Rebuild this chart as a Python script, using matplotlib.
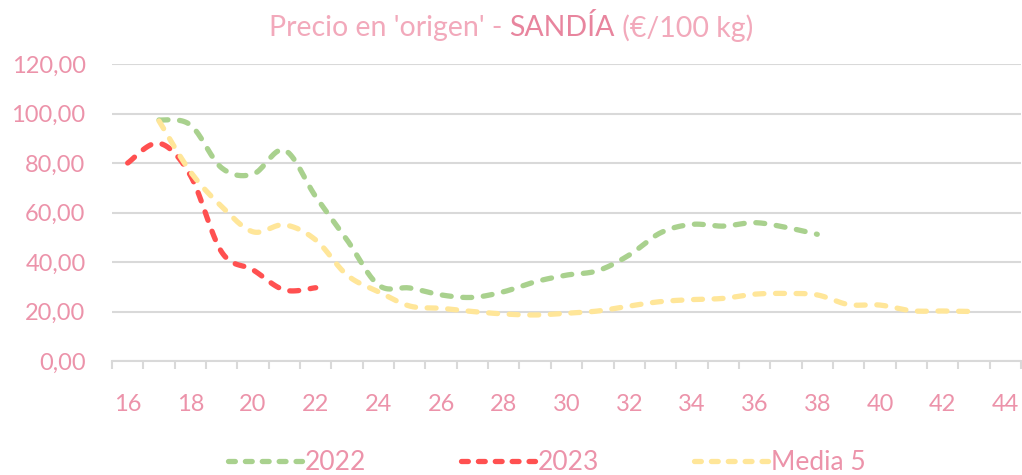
import numpy as np
import matplotlib.pyplot as plt
from matplotlib.lines import Line2D

# --- Weekly prices, €/100 kg ---
weeks_2022 = list(range(17, 39))
precio_2022 = [97.4, 95.4, 78.0, 75.5, 85.2, 66.4, 48.9, 30.7, 29.5, 26.7, 25.7,
               28.0, 32.0, 34.7, 36.5, 42.8, 51.8, 55.2, 54.5, 55.9, 54.0, 51.2]

weeks_2023 = list(range(16, 23))
precio_2023 = [80.0, 88.0, 75.0, 44.0, 36.8, 28.7, 29.6]

weeks_media = list(range(17, 44))
precio_media = [97.0, 76.5, 62.4, 52.2, 55.0, 48.9, 34.7, 28.0, 22.2, 21.3, 20.0,
                19.0, 18.6, 19.3, 20.2, 22.2, 24.0, 24.8, 25.3, 27.0, 27.3, 26.7,
                22.8, 22.6, 20.3, 20.2, 20.0]

x_ticks = list(range(16, 45, 2))
y_ticks = [0, 20, 40, 60, 80, 100, 120]

PINK = "#EC93AA"
PINK_LIGHT = "#F2A9BB"
PINK_DARK = "#E8859E"
GRID = "#D9D9D9"

plt.rcParams["font.family"] = ["Lato", "DejaVu Sans"]


def smooth(x, y, n=20):
    """Bezier smoothing like a spreadsheet 'smoothed line'."""
    x = np.asarray(x, float)
    y = np.asarray(y, float)
    px, py = [], []
    last = len(x) - 1
    for i in range(last):
        p0 = np.array([x[max(i - 1, 0)], y[max(i - 1, 0)]])
        p1 = np.array([x[i], y[i]])
        p2 = np.array([x[i + 1], y[i + 1]])
        p3 = np.array([x[min(i + 2, last)], y[min(i + 2, last)]])
        c1 = p1 + (p2 - p0) / 6
        c2 = p2 - (p3 - p1) / 6
        t = np.linspace(0, 1, n, endpoint=(i == last - 1))[:, None]
        b = ((1 - t) ** 3 * p1 + 3 * (1 - t) ** 2 * t * c1
             + 3 * (1 - t) * t ** 2 * c2 + t ** 3 * p2)
        px.extend(b[:, 0])
        py.extend(b[:, 1])
    return np.array(px), np.array(py)


fig = plt.figure(figsize=(10.22, 4.75), dpi=100)
ax = fig.add_axes([112 / 1022, 1 - 361 / 475, 909 / 1022, 297 / 475])

series = [
    ("2022", weeks_2022, precio_2022, "#A9D18E"),
    ("2023", weeks_2023, precio_2023, "#FF5050"),
    ("Media 5", weeks_media, precio_media, "#FFE699"),
]
handles = []
for label, wk, val, color in series:
    sx, sy = smooth(wk, val)
    ax.plot(sx, sy, color=color, lw=3.8, dashes=(1.7, 2.2),
            dash_capstyle="round", zorder=3)
    handles.append(Line2D([], [], color=color, lw=3.8, dashes=(1.3, 1.9),
                          dash_capstyle="round", label=label))

ax.set_xlim(15.5, 44.5)
ax.set_ylim(0, 120)
ax.set_yticks(y_ticks)
ax.set_yticklabels([f"{v:.2f}".replace(".", ",") for v in y_ticks])
ax.set_xticks(x_ticks)
ax.set_xticklabels([str(v) for v in x_ticks])
ax.set_xticks(np.arange(15.5, 45, 1), minor=True)

ax.grid(axis="y", color=GRID, lw=1.5, zorder=0)
for s in ("top", "right", "left"):
    ax.spines[s].set_visible(False)
ax.spines["bottom"].set_color(GRID)
ax.spines["bottom"].set_linewidth(1.5)

ax.tick_params(axis="y", length=0, pad=19, labelsize=17, labelcolor=PINK)
ax.tick_params(axis="x", which="major", length=0, pad=24, labelsize=17, labelcolor=PINK)
ax.tick_params(axis="x", which="minor", length=6, width=1.5, color=GRID)

# title in two tones, centred as one line
ty = 1 - 28 / 475
parts = [("Precio en 'origen' - ", PINK_LIGHT), ("SANDÍA", PINK_DARK),
         (" (€/100 kg)", PINK_LIGHT)]
texts = [fig.text(0, ty, s, ha="left", va="center", fontsize=20.5, color=c)
         for s, c in parts]
fig.canvas.draw()
r = fig.canvas.get_renderer()
widths = [t.get_window_extent(r).width for t in texts]
x0 = 511 - sum(widths) / 2
for t, w in zip(texts, widths):
    t.set_x(x0 / 1022)
    x0 += w

fig.legend(handles=handles, loc="center", bbox_to_anchor=(0.535, 1 - 463 / 475),
           ncol=3, frameon=False, fontsize=19, handlelength=2.8,
           handletextpad=0.1, columnspacing=3.6, labelcolor=PINK)

fig.savefig("out.png", dpi=100)
